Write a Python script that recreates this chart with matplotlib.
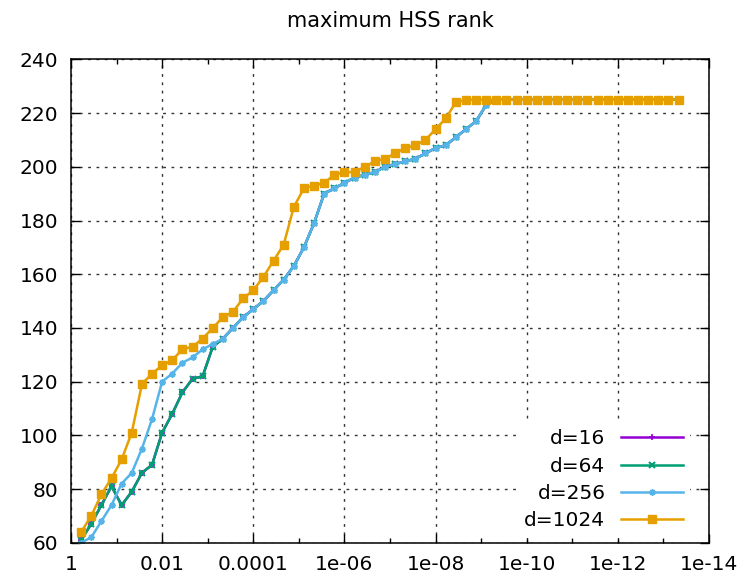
import numpy as np
import matplotlib
matplotlib.use("Agg")
import matplotlib.pyplot as plt
from matplotlib.ticker import FixedLocator

# tolerance grid: 9 steps per two decades, 60 points
tol = 10.0 ** (-np.arange(1, 61) * 2 / 9)

d1024 = [64, 70, 78, 84, 91, 101, 119, 123, 126, 128, 132, 133, 136, 140, 144,
         146, 151, 154, 159, 165, 171, 185, 192, 193, 194, 197, 198, 198, 200, 202,
         203, 205, 207, 208, 210, 214, 218, 224] + [225] * 22

d256 = [60, 62, 68, 74, 82, 86, 95, 106, 120, 123, 127, 129, 132, 134, 136,
        140, 144, 147, 150, 154, 158, 163, 170, 179, 190, 192, 194, 196, 197, 198,
        200, 201, 202, 203, 205, 207, 208, 211, 214, 217, 223] + [225] * 19

d64 = [61, 67, 74, 81, 74, 79, 86, 89, 101, 108, 116, 121, 122, 133] + d256[14:]

d16 = list(d64)

labels = ["d=16", "d=64", "d=256", "d=1024"]
colors = ["#9400d3", "#009e73", "#56b4e9", "#e69f00"]
markers = ["+", "x", (8, 2, 0), "s"]
msizes = [4, 4, 4.5, 5.5]
mews = [1.2, 1.5, 1.2, 1.0]

xticks = [1, 1e-2, 1e-4, 1e-6, 1e-8, 1e-10, 1e-12, 1e-14]
xticklabels = ["1", "0.01", "0.0001", "1e-06", "1e-08", "1e-10", "1e-12", "1e-14"]
yticks = list(range(60, 241, 20))

plt.rcParams["font.family"] = "DejaVu Sans"

fig = plt.figure(figsize=(7.51, 5.81), dpi=100)
ax = fig.add_axes([71 / 751, 1 - 542.7 / 581, (709 - 71) / 751, (542.7 - 59.4) / 581])

for ys, lab, c, m, ms, mw in zip([d16, d64, d256, d1024], labels, colors, markers, msizes, mews):
    ax.plot(tol, ys, color=c, lw=1.8, marker=m, ms=ms, mew=mw, label=lab)

ax.set_xscale("log")
ax.set_xlim(1, 1e-14)
ax.set_ylim(60, 240)
ax.set_xticks(xticks)
ax.set_xticklabels(xticklabels)
ax.xaxis.set_minor_locator(FixedLocator([10.0 ** -k for k in range(1, 14, 2)]))
ax.xaxis.set_minor_formatter(plt.NullFormatter())
ax.set_yticks(yticks)

ax.grid(True, which="major", color="#333333", lw=1.0, linestyle=(0, (2, 4)))
ax.tick_params(which="both", direction="in", top=True, right=True, labelsize=14.5)
ax.tick_params(which="major", length=6.5, width=1.0)
ax.tick_params(which="minor", length=3.5, width=1.0)
ax.tick_params(axis="x", pad=9)
ax.tick_params(axis="y", pad=9)
for s in ax.spines.values():
    s.set_linewidth(1.1)

ax.set_title("maximum HSS rank", fontsize=15, pad=23)

leg = ax.legend(loc="lower right", bbox_to_anchor=(0.9687, 0.0128), borderaxespad=0,
                fontsize=14.5, markerfirst=False, numpoints=1,
                handlelength=3.1, labelspacing=0.42,
                frameon=True, fancybox=False, framealpha=1, edgecolor="white",
                borderpad=0.3, handletextpad=0.75)
# right-align the label texts like gnuplot does
for col in leg._legend_handle_box.get_children():
    col.align = "right"

fig.savefig("out.png", dpi=100)
